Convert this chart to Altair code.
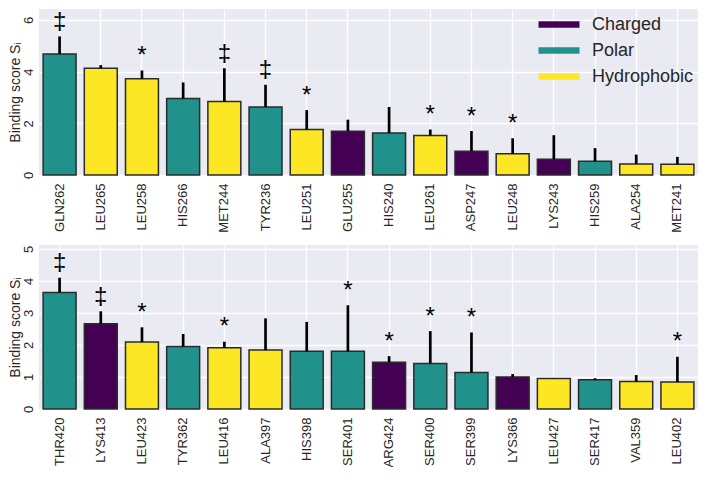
import altair as alt
import pandas as pd

# ---- data ----
categories = ["Charged", "Polar", "Hydrophobic"]
cat_colors = ["#440154", "#21918c", "#fde725"]

top_res = ["GLN262", "LEU265", "LEU258", "HIS266", "MET244", "TYR236", "LEU251", "GLU255",
           "HIS240", "LEU261", "ASP247", "LEU248", "LYS243", "HIS259", "ALA254", "MET241"]
top_cat = ["Polar", "Hydrophobic", "Hydrophobic", "Polar", "Hydrophobic", "Polar", "Hydrophobic", "Charged",
           "Polar", "Hydrophobic", "Charged", "Hydrophobic", "Charged", "Polar", "Hydrophobic", "Hydrophobic"]
top_val = [4.68, 4.13, 3.72, 2.96, 2.84, 2.63, 1.76, 1.69, 1.62, 1.53, 0.92, 0.82, 0.61, 0.53, 0.43, 0.42]
top_err = [5.36, 4.25, 4.04, 3.58, 4.13, 3.49, 2.51, 2.14, 2.63, 1.76, 1.70, 1.42, 1.54, 1.04, 0.79, 0.70]
top_mark = ["‡", "", "*", "", "‡", "‡", "*", "", "", "*", "*", "*", "", "", "", ""]

bot_res = ["THR420", "LYS413", "LEU423", "TYR362", "LEU416", "ALA397", "HIS398", "SER401",
           "ARG424", "SER400", "SER399", "LYS366", "LEU427", "SER417", "VAL359", "LEU402"]
bot_cat = ["Polar", "Charged", "Hydrophobic", "Polar", "Hydrophobic", "Hydrophobic", "Polar", "Polar",
           "Charged", "Polar", "Polar", "Charged", "Hydrophobic", "Polar", "Hydrophobic", "Hydrophobic"]
bot_val = [3.64, 2.66, 2.09, 1.95, 1.91, 1.84, 1.80, 1.80, 1.46, 1.42, 1.14, 1.00, 0.95, 0.91, 0.86, 0.84]
bot_err = [4.10, 3.05, 2.55, 2.34, 2.10, 2.83, 2.72, 3.24, 1.65, 2.43, 2.39, 1.09, 0.96, 0.96, 1.06, 1.63]
bot_mark = ["‡", "‡", "*", "", "*", "", "", "*", "*", "*", "*", "", "", "", "", "*"]

FONT = "Liberation Sans"
TXT = "#262626"
BG = "#EAEAF2"
# legend scale (stroke) and bar fill scale: same colours, fill domain listed in another order
stroke_scale = alt.Scale(domain=categories, range=cat_colors)
fill_scale = alt.Scale(domain=[categories[1], categories[2], categories[0]],
                       range=[cat_colors[1], cat_colors[2], cat_colors[0]])


def panel(res, cat, val, err, mark, ymax, yticks, height, legend):
    df = pd.DataFrame({"res": res, "cat": cat, "val": val, "err": err, "mark": mark})
    base = alt.Chart(df)
    x = alt.X("res:N", sort=res, title=None,
              scale=alt.Scale(paddingInner=0.2, paddingOuter=0.1),
              axis=alt.Axis(labelAngle=270, ticks=False, domain=False, labelPadding=8,
                            labelFontSize=13, labelFont=FONT, labelColor=TXT,
                            bandPosition=0.5, grid=True, gridColor="white", gridWidth=1.3))
    yaxis = alt.Axis(values=yticks, title="Binding score Sᵢ", ticks=False, domain=False,
                     labelAngle=270, labelAlign="center", labelBaseline="bottom",
                     labelPadding=4, labelFontSize=13, labelFont=FONT, labelColor=TXT,
                     titleFont=FONT, titleFontSize=14, titleFontWeight="normal",
                     titleColor=TXT, titlePadding=0, grid=True, gridColor="white", gridWidth=1.3)
    yscale = alt.Scale(domain=[0, ymax], nice=False, zero=True)
    bars = base.mark_bar(stroke="#2b2b2b", strokeWidth=1.5).encode(
        x=x,
        y=alt.Y("val:Q", scale=yscale, axis=yaxis),
        fill=alt.Fill("cat:N", scale=fill_scale, legend=None),
    )
    errs = base.mark_rule(color="black", strokeWidth=2.7).encode(
        x=x, y=alt.Y("val:Q", scale=yscale, axis=yaxis), y2="err:Q")
    text = base.mark_text(font=FONT, fontSize=24, baseline="alphabetic", dy=-7.5,
                          color="black").encode(
        x=x, y=alt.Y("err:Q", scale=yscale, axis=yaxis), text="mark:N")
    layers = [bars, errs, text]
    if legend:
        leg = alt.Chart(pd.DataFrame({"group": categories})).mark_rule(strokeCap="butt").encode(
            x=alt.value(0), x2=alt.value(0), y=alt.value(0), y2=alt.value(0),
            stroke=alt.Stroke("group:N", scale=stroke_scale,
                              legend=alt.Legend(orient="none", legendX=509, legendY=4.5, title=None,
                                                symbolType="M-2.77,0H2.77", symbolSize=219,
                                                symbolStrokeWidth=6.5, labelFontSize=18,
                                                labelFont=FONT, labelColor=TXT, padding=0,
                                                labelOffset=22, rowPadding=0))
        )
        layers.append(leg)
    return alt.layer(*layers).properties(width=659, height=height)


top = panel(top_res, top_cat, top_val, top_err, top_mark, 6.42, [0, 2, 4, 6], 166, True)
bot = panel(bot_res, bot_cat, bot_val, bot_err, bot_mark, 5.12, [0, 1, 2, 3, 4, 5], 164, False)

chart = alt.vconcat(top, bot, spacing=12).resolve_scale(
    fill="independent", stroke="independent"
).properties(
    padding={"left": 0, "top": 0, "right": 0, "bottom": 0},
    background="white",
).configure_view(stroke=None, fill=BG)

chart.save("out.html", embed_options={"renderer": "svg", "actions": False})
